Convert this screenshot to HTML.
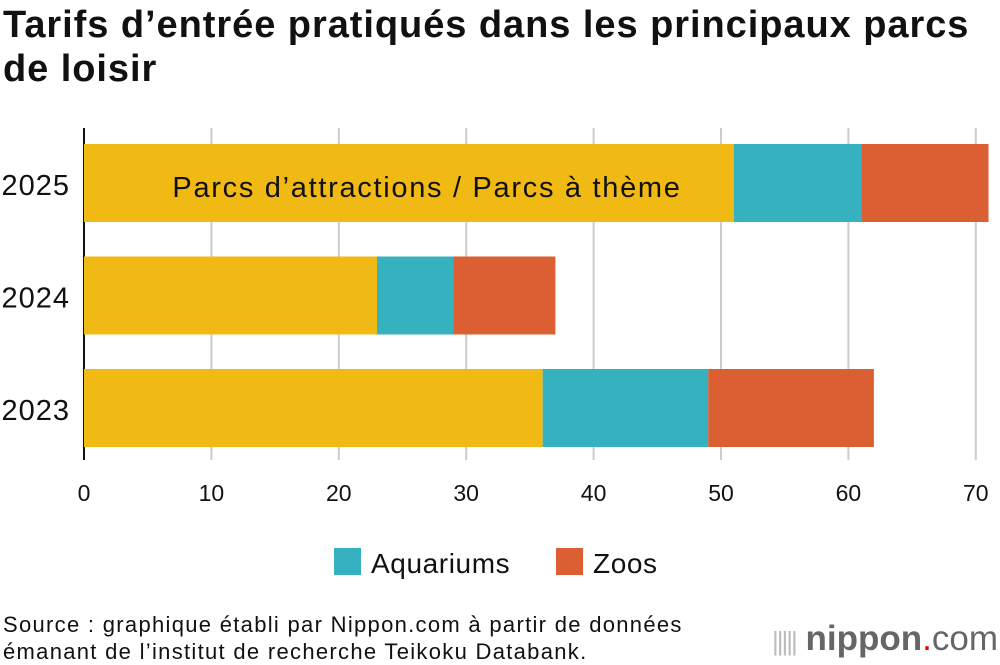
<!DOCTYPE html>
<html><head><meta charset="utf-8"><style>
body{margin:0;width:1000px;height:664px;background:#fff;font-family:"Liberation Sans",sans-serif;overflow:hidden;position:relative}
.t{position:absolute}
</style></head><body>
<div class="t" style="left:3px;top:3px;font-size:38px;font-weight:bold;line-height:44px;color:#111;white-space:nowrap;letter-spacing:0.95px">Tarifs d’entrée pratiqués dans les principaux parcs<br>de loisir</div>
<svg id="c" width="1000" height="664" style="position:absolute;left:0;top:0"></svg>
<div class="t" style="left:3px;top:611px;font-size:22px;line-height:27px;color:#111;white-space:nowrap;letter-spacing:1.3px">Source : graphique établi par Nippon.com à partir de données<br>émanant de l’institut de recherche Teikoku Databank.</div>
<div class="t" style="left:772px;top:619px;font-size:35px;line-height:40px;color:#666;white-space:nowrap"><span style="color:#bbb;font-size:26px;letter-spacing:-2px">|||||</span> <b>nippon</b><span style="color:#e00">.</span>com</div>
<script>
const categories=["2025","2024","2023"];
const parks=[51,23,36];
const aquariums=[10,6,13];
const zoos=[10,8,13];
const ticks=[0,10,20,30,40,50,60,70];
const NS="http://www.w3.org/2000/svg";
const svg=document.getElementById('c');
const x=v=>84+v*12.74;
const yc=i=>144+i*112.5;
function mk(t,a){const e=document.createElementNS(NS,t);for(const k in a)e.setAttribute(k,a[k]);svg.appendChild(e);return e;}
ticks.forEach(v=>{
 const g=mk('line',{x1:x(v),x2:x(v),y1:128,y2:460,stroke:v===0?'#111':'#ccc','stroke-width':2});
 
 
 const t=mk('text',{x:x(v),y:501,'text-anchor':'middle','font-size':23,fill:'#111'});t.textContent=v;
 
 
});
const series=[[parks,'#f0b914','parks'],[aquariums,'#35b1c0','aquariums'],[zoos,'#dc5f33','zoos']];
categories.forEach((c,i)=>{
 let acc=0;
 series.forEach(([arr,col,nm])=>{
  const r=mk('rect',{x:x(acc),y:yc(i),width:x(acc+arr[i])-x(acc),height:78,fill:col});
  
  
  acc+=arr[i];
 });
 const t=mk('text',{x:70,y:yc(i)+51,'text-anchor':'end','font-size':29,fill:'#111','letter-spacing':1});t.textContent=c;
 
 
});
const lab=mk('text',{x:427,y:197,'text-anchor':'middle','font-size':29,fill:'#111','letter-spacing':1.7});lab.textContent='Parcs d’attractions / Parcs à thème';


[[334,'#35b1c0','Aquariums'],[556,'#dc5f33','Zoos']].forEach(([lx,col,txt])=>{
 const r=mk('rect',{x:lx,y:548,width:27,height:27,fill:col});
 
 
 const t=mk('text',{x:lx+37,y:573,'font-size':28,fill:'#111','letter-spacing':0.6});t.textContent=txt;
 
 
});
</script>
</body></html>
